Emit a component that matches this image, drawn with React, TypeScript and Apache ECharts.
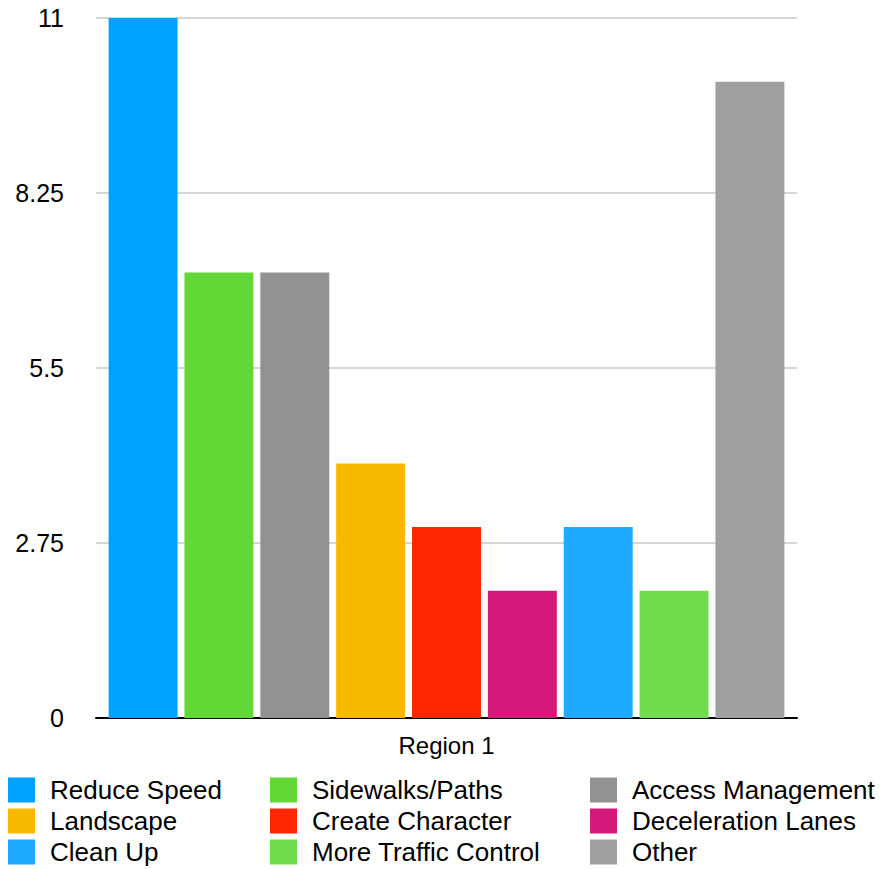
import React, { useEffect, useRef } from "react";
import * as echarts from "echarts";

const categories = ["Region 1"];
const seriesNames = [
  "Reduce Speed",
  "Sidewalks/Paths",
  "Access Management",
  "Landscape",
  "Create Character",
  "Deceleration Lanes",
  "Clean Up",
  "More Traffic Control",
  "Other",
];
const seriesValues = [11, 7, 7, 4, 3, 2, 3, 2, 10];
const seriesColors = [
  "#00A2FF",
  "#61D836",
  "#929292",
  "#F8BA00",
  "#FF2600",
  "#D5197A",
  "#1EAAFF",
  "#72DC4F",
  "#A0A0A0",
];
const legendColumns = [
  ["Reduce Speed", "Landscape", "Clean Up"],
  ["Sidewalks/Paths", "Create Character", "More Traffic Control"],
  ["Access Management", "Deceleration Lanes", "Other"],
];
const legendLefts = [8, 270, 590];
const yMax = 11;
const yInterval = 2.75;

const FONT = "'Liberation Sans', Arial, Helvetica, sans-serif";

export default function App() {
  const ref = useRef<HTMLDivElement>(null);
  useEffect(() => {
    if (!ref.current) return;
    const chart = echarts.init(ref.current, null, { renderer: "svg" });
    chart.setOption({
      animation: false,
      grid: { left: 96, right: 93, top: 18, bottom: 151, containLabel: false },
      xAxis: {
        type: "category",
        data: categories,
        axisLine: { show: true, lineStyle: { color: "#000", width: 2 } },
        axisTick: { show: false },
        axisLabel: { color: "#000", fontSize: 24, fontFamily: FONT, margin: 15 },
      },
      yAxis: {
        type: "value",
        min: 0,
        max: yMax,
        interval: yInterval,
        axisLine: { show: false },
        axisTick: { show: false },
        axisLabel: {
          color: "#000",
          fontSize: 25,
          fontFamily: FONT,
          margin: 32,
          formatter: (v: number) => String(v),
        },
        splitLine: { lineStyle: { color: "#c8c8c8", width: 1.5 } },
      },
      legend: legendColumns.map((col, i) => ({
        orient: "vertical",
        left: legendLefts[i],
        top: 777,
        padding: 0,
        itemWidth: 27,
        itemHeight: 25,
        itemGap: 5,
        icon: "rect",
        data: col,
        selectedMode: false,
        textStyle: {
          color: "#000",
          fontSize: 26,
          fontFamily: FONT,
          padding: [0, 0, 0, 10],
        },
      })),
      series: seriesNames.map((name, i) => ({
        name,
        type: "bar",
        data: [seriesValues[i]],
        itemStyle: { color: seriesColors[i] },
        barCategoryGap: "3.6%",
        barGap: "10%",
      })),
    });
    return () => chart.dispose();
  }, []);
  return (
    <div
      ref={ref}
      style={{ position: "fixed", left: 0, top: 0, width: 890, height: 869, background: "#fff" }}
    />
  );
}
